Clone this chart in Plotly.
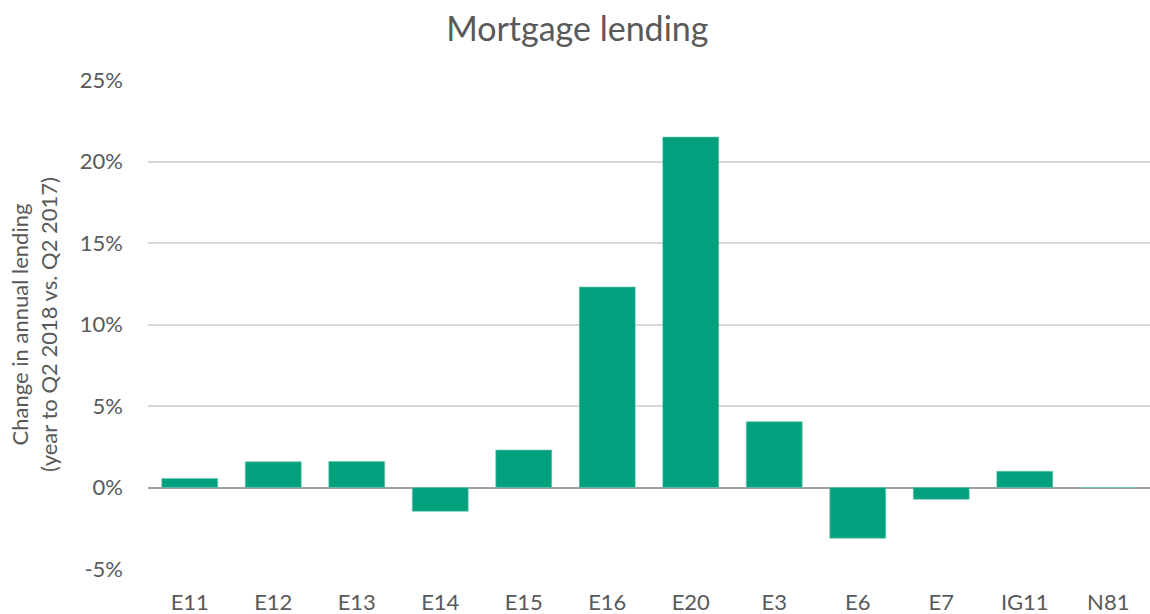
import plotly.graph_objects as go

# Mortgage lending change by postcode area (%)
areas = ['E11', 'E12', 'E13', 'E14', 'E15', 'E16', 'E20', 'E3', 'E6', 'E7', 'IG11', 'N81']
change_pct = [0.55, 1.58, 1.6, -1.46, 2.3, 12.3, 21.5, 4.04, -3.11, -0.72, 1.0, 0.0]

tick_vals = [-5, 0, 5, 10, 15, 20, 25]
tick_text = ['-5%', '0%', '5%', '10%', '15%', '20%', '25%']

text_grey = '#595959'

fig = go.Figure(go.Bar(
    x=areas,
    y=change_pct,
    marker=dict(color='#02A17E', line=dict(color='#6cc7b2', width=0.6)),
    hovertemplate='<b>%{x}</b><br>%{y:.1f}%<extra></extra>'
))

fig.update_layout(
    title=dict(
        text='Mortgage lending',
        x=0.502, xanchor='center',
        y=0.953, yref='container', yanchor='middle',
        font=dict(size=34, color=text_grey)
    ),
    xaxis=dict(
        showgrid=False,
        ticks='outside', ticklen=14, tickcolor='rgba(0,0,0,0)',
        tickfont=dict(size=22, color=text_grey)
    ),
    yaxis=dict(
        range=[-5, 25],
        tickvals=tick_vals,
        ticktext=tick_text,
        showgrid=True,
        gridcolor='#d9d9d9',
        gridwidth=1.5,
        zeroline=True,
        zerolinecolor='#a0a0a0',
        zerolinewidth=2,
        ticklabelstandoff=24,
        tickfont=dict(size=22, color=text_grey),
        title=dict(
            text='Change in annual lending<br>(year to Q2 2018 vs. Q2 2017)',
            font=dict(size=22, color=text_grey),
            standoff=16
        )
    ),
    bargap=0.33,
    showlegend=False,
    width=1150,
    height=614,
    margin=dict(t=80, b=45, l=148, r=0),
    paper_bgcolor='white',
    plot_bgcolor='white',
    font=dict(family='Lato', color=text_grey)
)

# drop the default page margin so the figure sits at the window's corner
fig.write_html('out.html', config={'displayModeBar': False},
               post_script="document.body.style.margin='0';")
